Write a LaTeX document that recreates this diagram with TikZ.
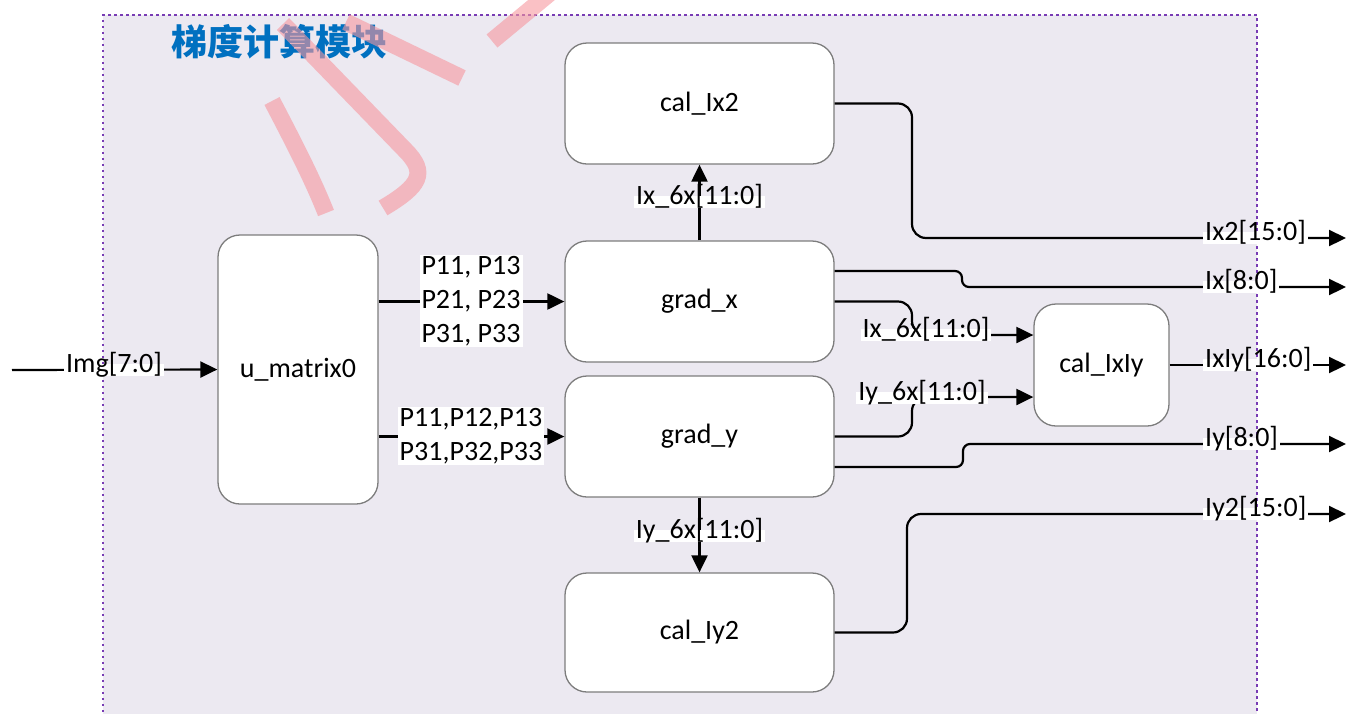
\documentclass[tikz,border=0pt]{standalone}
\usepackage{fontspec}
\setmainfont{Carlito}
\newfontfamily\cjk{Noto Sans CJK SC}
\usetikzlibrary{arrows.meta}

\definecolor{panel}{RGB}{236,233,241}
\definecolor{panelborder}{RGB}{120,60,180}
\definecolor{boxline}{RGB}{125,125,125}
\definecolor{titleblue}{RGB}{0,112,192}
\definecolor{wmpink}{RGB}{246,151,159}

\begin{document}
\begin{tikzpicture}[x=1pt,y=-1pt,
  font=\fontsize{28}{34}\selectfont,
  block/.style={draw=boxline, line width=1.3pt, fill=white, rounded corners=22pt,
                inner sep=0pt},
  wire/.style={line width=2.2pt, black, rounded corners=14pt},
  sig/.style={-{Triangle[length=17pt,width=16pt]}},
  lbl/.style={fill=white, inner xsep=2pt, inner ysep=1.5pt,
              text height=0.72em, text depth=0.2em},
  mlbl/.style={fill=white, inner xsep=2pt, inner ysep=1pt, align=center},
  wmstroke/.style={line width=17pt, draw=wmpink, opacity=0.6, line cap=butt}
]
\useasboundingbox (0,0) rectangle (1362,713);

% module panel
\fill[panel] (103,15) rectangle (1257,730);
\draw[panelborder, line width=2.5pt, dash pattern=on 2.5pt off 3.5pt]
  (103,730) -- (103,15) -- (1257,15) -- (1257,730);

\node[font=\cjk\bfseries\fontsize{36}{40}\selectfont, text=titleblue]
  (title) at (279,42) {梯度计算模块};

% blocks
\node[block, minimum width=160pt, minimum height=269pt] (umat)    at (298,369.5)  {u\_matrix0};
\node[block, minimum width=269pt, minimum height=121pt] (calIx2)  at (699.5,103.5) {cal\_Ix2};
\node[block, minimum width=269pt, minimum height=121pt] (gradx)   at (699.5,301.5) {grad\_x};
\node[block, minimum width=269pt, minimum height=121pt] (grady)   at (699.5,436.5) {grad\_y};
\node[block, minimum width=269pt, minimum height=119pt] (calIy2)  at (699.5,632.5) {cal\_Iy2};
\node[block, minimum width=135pt, minimum height=122pt] (calIxIy) at (1101.5,365)  {cal\_IxIy};

% free ends
\coordinate (imgin)  at (12,370);
\coordinate (ix2out) at (1346,238);
\coordinate (ixout)  at (1346,287);
\coordinate (ixyout) at (1346,365);
\coordinate (iyout)  at (1346,444);
\coordinate (iy2out) at (1346,514);

% connectors
\draw[wire, sig] (imgin) -- (umat.west);
\draw[wire, sig] (umat.east |- gradx.west) -- (gradx.west);
\draw[wire, sig] (umat.east |- grady.west) -- (grady.west);
\draw[wire, sig] (gradx.north) -- (calIx2.south);
\draw[wire, sig] (grady.south) -- (calIy2.north);
\draw[wire, sig] (calIx2.east) -- (912,103.5) -- (912,238) -- (ix2out);
\draw[wire, sig, rounded corners=7pt] ([yshift=30.5pt]gradx.east) -- (962,271) -- (962,287) -- (ixout);
\draw[wire, sig] (gradx.east) -- (912,301.5) -- (912,335) -- ([yshift=30pt]calIxIy.west);
\draw[wire, sig] (grady.east) -- (912,436.5) -- (912,397) -- ([yshift=-32pt]calIxIy.west);
\draw[wire, sig, rounded corners=7pt] ([yshift=-30.5pt]grady.east) -- (963,467) -- (963,444) -- (iyout);
\draw[wire, sig] (calIxIy.east) -- (ixyout);
\draw[wire, sig] (calIy2.east) -- (907,632.5) -- (907,514) -- (iy2out);

% signal labels
\node[lbl] (limg)  at (114,370)   {Img[7:0]};
\node[mlbl] (lpx)  at (471,301)   {P11, P13\\P21, P23\\P31, P33};
\node[mlbl] (lpy)  at (471,436)   {P11,P12,P13\\P31,P32,P33};
\node[lbl] (lix6a) at (699.5,202) {Ix\_6x[11:0]};
\node[lbl] (liy6a) at (699.5,536) {Iy\_6x[11:0]};
\node[lbl] (lix6b) at (926,335)   {Ix\_6x[11:0]};
\node[lbl] (liy6b) at (922,398)   {Iy\_6x[11:0]};
\node[lbl, anchor=west] (lix2) at (1203,238) {Ix2[15:0]};
\node[lbl, anchor=west] (lix)  at (1203,287) {Ix[8:0]};
\node[lbl, anchor=west] (lixy) at (1203,365) {IxIy[16:0]};
\node[lbl, anchor=west] (liy)  at (1203,444) {Iy[8:0]};
\node[lbl, anchor=west] (liy2) at (1203,514) {Iy2[15:0]};

% pink brush strokes
\draw[wmstroke] (556,-12) -- (492,41);
\draw[wmstroke] (283,24) -- (405,150) .. controls (428,173) and (420,186) .. (383,208);
\draw[wmstroke] (346,22) -- (462,78);
\draw[wmstroke] (272,101) .. controls (295,145) and (313,180) .. (326,213);
\end{tikzpicture}
\end{document}
